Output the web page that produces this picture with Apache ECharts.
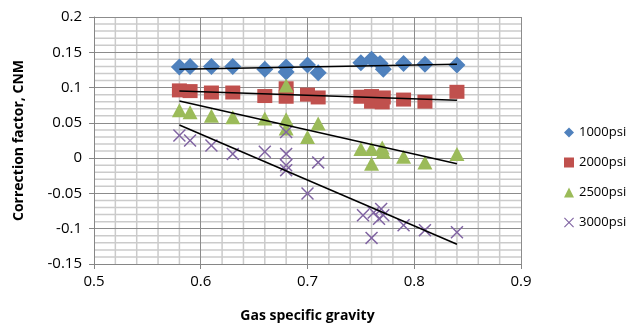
<!DOCTYPE html>
<html>
<head>
<meta charset="utf-8">
<script src="https://cdn.jsdelivr.net/npm/echarts@6/dist/echarts.min.js"></script>
<style>
html,body{margin:0;padding:0;background:#fff;}
#main{width:629px;height:332px;}
</style>
</head>
<body>
<div id="main"></div>
<script>
// gas specific gravity / correction factor
var psi1000 = [[0.58,0.129],[0.59,0.130],[0.61,0.130],[0.63,0.130],[0.66,0.126],[0.68,0.129],[0.68,0.122],
	[0.70,0.132],[0.71,0.121],[0.75,0.135],[0.76,0.140],[0.768,0.134],[0.771,0.126],[0.79,0.134],[0.81,0.133],[0.84,0.132]];
var psi2000 = [[0.58,0.096],[0.59,0.095],[0.61,0.093],[0.63,0.093],[0.66,0.088],[0.68,0.099],[0.68,0.087],[0.70,0.090],
	[0.71,0.086],[0.75,0.087],[0.76,0.088],[0.76,0.080],[0.771,0.086],[0.77,0.079],[0.79,0.083],[0.81,0.080],[0.84,0.094]];
var psi2500 = [[0.58,0.068],[0.59,0.065],[0.61,0.060],[0.63,0.058],[0.66,0.056],[0.68,0.103],[0.68,0.055],[0.68,0.042],
	[0.70,0.030],[0.71,0.049],[0.75,0.013],[0.76,0.013],[0.76,-0.008],[0.77,0.015],[0.771,0.009],[0.79,0.002],[0.81,-0.006],[0.84,0.006]];
var psi3000 = [[0.58,0.032],[0.59,0.025],[0.61,0.018],[0.63,0.006],[0.66,0.009],[0.68,0.037],[0.68,0.006],[0.68,-0.010],[0.68,-0.017],
	[0.70,-0.050],[0.71,-0.006],[0.752,-0.081],[0.762,-0.077],[0.769,-0.072],[0.771,-0.081],[0.767,-0.086],[0.76,-0.113],
	[0.79,-0.095],[0.81,-0.102],[0.84,-0.105]];
// linear trendlines (end points)
var trend1000 = [[0.58,0.126],[0.84,0.133]];
var trend2000 = [[0.58,0.095],[0.84,0.082]];
var trend2500 = [[0.58,0.081],[0.84,-0.008]];
var trend3000 = [[0.58,0.047],[0.84,-0.122]];

var seriesNames = ['1000psi','2000psi','2500psi','3000psi'];
var seriesColors = ['#4F81BD','#C0504D','#9BBB59','#8064A2'];

var xMin = 0.5, xMax = 0.9, yMin = -0.15, yMax = 0.2;

var crossPath = 'path://M0,0.8L0.8,0L5,4.2L9.2,0L10,0.8L5.8,5L10,9.2L9.2,10L5,5.8L0.8,10L0,9.2L4.2,5Z';
var fontFam = '"Open Sans", "Noto Sans", sans-serif';

// minor grid: thin line series every 0.02 on x and 0.01 on y (majors skipped)
function gridSeries(data) {
	return {
		type: 'line',
		data: data,
		symbol: 'none',
		silent: true,
		z: 1,
		lineStyle: {color: '#cbcbcb', width: 1.5},
		emphasis: {disabled: true},
		animation: false
	};
}
var minorSeries = [];
for (var i = 26; i < 45; i++) {
	if (i % 5 != 0) minorSeries.push(gridSeries([[i / 50, yMin], [i / 50, yMax]]));
}
for (var j = -14; j < 20; j++) {
	if (j % 5 != 0) minorSeries.push(gridSeries([[xMin, j / 100], [xMax, j / 100]]));
}

function trendSeries(data) {
	return {
		type: 'line',
		data: data,
		symbol: 'none',
		silent: true,
		z: 5,
		lineStyle: {color: '#000', width: 1.5},
		animation: false
	};
}

var myChart = echarts.init(document.getElementById('main'));
var option = {
	backgroundColor: '#fff',
	animation: false,
	textStyle: {fontFamily: fontFam},
	grid: {left: 94, top: 17, width: 427, height: 247},
	legend: {
		orient: 'vertical',
		left: 559,
		top: 121,
		itemGap: 17,
		itemWidth: 10,
		itemHeight: 10,
		textStyle: {fontSize: 13, color: '#000', fontFamily: fontFam},
		data: [
			{name: seriesNames[0], icon: 'diamond'},
			{name: seriesNames[1], icon: 'rect'},
			{name: seriesNames[2], icon: 'triangle'},
			{name: seriesNames[3], icon: crossPath}
		]
	},
	xAxis: {
		type: 'value',
		min: xMin, max: xMax, interval: 0.1,
		z: 3,
		name: 'Gas specific gravity',
		nameLocation: 'middle',
		nameGap: 45,
		nameTextStyle: {fontSize: 14, fontWeight: 'bold', color: '#000'},
		axisLine: {show: true, onZero: false, lineStyle: {color: '#868686'}},
		axisTick: {show: true, length: 5, lineStyle: {color: '#868686'}},
		axisLabel: {fontSize: 15, color: '#000', margin: 10},
		splitLine: {show: true, lineStyle: {color: '#8c8c8c', width: 1}}
	},
	yAxis: {
		type: 'value',
		min: yMin, max: yMax, interval: 0.05,
		z: 3,
		name: 'Correction factor, CNM',
		nameLocation: 'middle',
		nameGap: 68,
		nameTextStyle: {fontSize: 14, fontWeight: 'bold', color: '#000'},
		axisLine: {show: true, onZero: false, lineStyle: {color: '#868686'}},
		axisTick: {show: true, length: 5, lineStyle: {color: '#868686'}},
		axisLabel: {fontSize: 15, color: '#000', margin: 12,
			formatter: function(v) { return String(Math.round(v * 100) / 100); }},
		splitLine: {show: true, lineStyle: {color: '#8c8c8c', width: 1}}
	},
	series: minorSeries.concat([
		{name: seriesNames[0], type: 'scatter', data: psi1000, symbol: 'diamond', symbolSize: 17, z: 4,
			itemStyle: {color: seriesColors[0], opacity: 1}},
		{name: seriesNames[1], type: 'scatter', data: psi2000, symbol: 'rect', symbolSize: [15, 14], z: 4,
			itemStyle: {color: seriesColors[1], opacity: 1}},
		{name: seriesNames[2], type: 'scatter', data: psi2500, symbol: 'triangle', symbolSize: [15, 14], z: 4,
			itemStyle: {color: seriesColors[2], opacity: 1}},
		{name: seriesNames[3], type: 'scatter', data: psi3000, symbol: crossPath, symbolSize: 13, z: 4,
			itemStyle: {color: seriesColors[3], opacity: 1}},
		trendSeries(trend1000),
		trendSeries(trend2000),
		trendSeries(trend2500),
		trendSeries(trend3000)
	])
};
myChart.setOption(option);
</script>
</body>
</html>
